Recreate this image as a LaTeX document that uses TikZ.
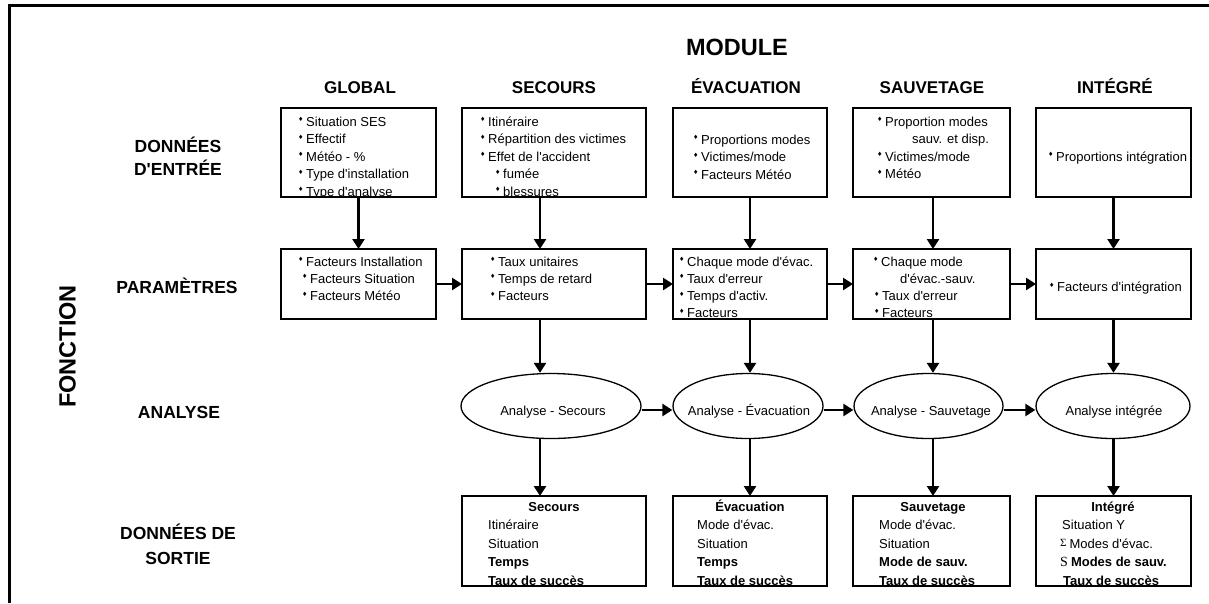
\documentclass[tikz,border=0pt]{standalone}
\usepackage{fontspec}
\setmainfont{Liberation Sans}
\newfontfamily\serifsym{Liberation Serif}
\newfontfamily\dejavu{DejaVu Sans}
\usetikzlibrary{arrows.meta,shapes.geometric,calc}
\newcommand{\q}{\textquotesingle}
\newcommand{\bul}{\makebox[8pt][l]{\raisebox{4.4pt}{\dejavu\fontsize{6}{6}\selectfont ♦}}}
\newcommand{\tl}[1]{\begin{tabular}[t]{@{}l@{}}#1\end{tabular}}
\newcommand{\tc}[1]{\begin{tabular}[t]{@{}c@{}}#1\end{tabular}}
\tikzset{
  boxln/.style={draw, line width=2.8pt, inner sep=0pt, outer sep=0pt},
  inbox/.style={boxln, minimum height=89pt},
  parbox/.style={boxln, minimum height=70pt},
  outbox/.style={boxln, minimum height=90pt},
  arr/.style={line width=2.5pt, -{Triangle[length=10pt,width=12pt]}},
  ell/.style={ellipse, draw, line width=1.3pt, inner sep=0pt, minimum height=65pt},
  body/.style={font=\fontsize{13}{17.5}\selectfont, inner sep=0pt, anchor=base west},
  parbody/.style={font=\fontsize{13}{17.2}\selectfont, inner sep=0pt, anchor=base west},
  outbody/.style={font=\fontsize{13}{18.7}\selectfont, inner sep=0pt, anchor=base west},
  outtitle/.style={font=\fontsize{13}{16}\selectfont\bfseries, inner sep=0pt, anchor=base},
  elltext/.style={font=\fontsize{13}{16}\selectfont, inner sep=0pt, anchor=base},
  coltitle/.style={font=\fontsize{17}{20}\selectfont\bfseries, inner sep=0pt, anchor=base},
  rowlab/.style={font=\fontsize{17.5}{23}\selectfont\bfseries, inner sep=0pt, anchor=base},
  big/.style={font=\fontsize{23.5}{28}\selectfont\bfseries, inner sep=0pt},
}
\begin{document}
\begin{tikzpicture}[x=1pt,y=-1pt]
\useasboundingbox (0,0) rectangle (1209,603);
\draw[line width=3pt] (9,603) -- (9,5) -- (1209,5);

% titles
\node[big, anchor=base] (tmod) at (737,55.5) {MODULE};
\node[coltitle] (t1) at (360,93.5) {GLOBAL};
\node[coltitle] (t2) at (554,93.5) {SECOURS};
\node[coltitle] (t3) at (746,93.5) {ÉVACUATION};
\node[coltitle] (t4) at (932,93.5) {SAUVETAGE};
\node[coltitle] (t5) at (1115,93.5) {INTÉGRÉ};

\node[big, rotate=90] (fn) at (67.5,346.5) {FONCTION};
\node[rowlab] (r1) at (178,152) {\tc{DONNÉES\\D\q ENTRÉE}};
\node[rowlab] (r2) at (177,293.5) {PARAMÈTRES};
\node[rowlab] (r3) at (179,418.5) {ANALYSE};
\node[rowlab, font=\fontsize{17.5}{25}\selectfont\bfseries] (r4) at (178,539) {\tc{DONNÉES DE\\SORTIE}};

% input texts
\begin{scope}\clip (281,108) rectangle (436,197);
\node[body] (ti1) at (298,126) {\tl{\bul Situation SES\\ \bul Effectif\\ \bul Météo - \%\\ \bul Type d\q installation\\ \bul Type d\q analyse}};
\end{scope}
\begin{scope}\clip (462,108) rectangle (646,197);
\node[body] (ti2) at (480,126) {\tl{\bul Itinéraire\\ \bul Répartition des victimes\\ \bul Effet de l\q accident\\ \hspace{15pt}\bul fumée\\ \hspace{15pt}\bul blessures}};
\end{scope}
\node[body] (ti3) at (693,144) {\tl{\bul Proportions modes\\ \bul Victimes/mode\\ \bul Facteurs Météo}};
\node[body] (ti4) at (877,126) {\tl{\bul Proportion modes\\ \hspace{35pt}sauv. et disp.\\ \bul Victimes/mode\\ \bul Météo}};
\node[body] (ti5) at (1048,161) {\bul Proportions intégration};

% parameter texts
\node[parbody] (tp1) at (298,266) {\tl{\bul Facteurs Installation\\ \hspace{4pt}\bul Facteurs Situation\\ \hspace{4pt}\bul Facteurs Météo}};
\node[parbody] (tp2) at (490,266) {\tl{\bul Taux unitaires\\ \bul Temps de retard\\ \bul Facteurs}};
\begin{scope}\clip (673,249) rectangle (827,319);
\node[parbody] (tp3) at (679,266) {\tl{\bul Chaque mode d\q évac.\\ \bul Taux d\q erreur\\ \bul Temps d\q activ.\\ \bul Facteurs}};
\end{scope}
\begin{scope}\clip (853,249) rectangle (1010,319);
\node[parbody] (tp4) at (873,266) {\tl{\bul Chaque mode\\ \hspace{27pt}d\q évac.-sauv.\\ \hspace{1pt}\bul Taux d\q erreur\\ \hspace{1pt}\bul Facteurs}};
\end{scope}
\node[parbody] (tp5) at (1049,291.5) {\bul Facteurs d\q intégration};

% output texts
\node[outtitle] (to2t) at (554,511.5) {Secours};
\node[outtitle] (to3t) at (750,511.5) {Évacuation};
\node[outtitle] (to4t) at (933,511.5) {Sauvetage};
\node[outtitle] (to5t) at (1113,511.5) {Intégré};
\begin{scope}\clip (462,496) rectangle (646,586);
\node[outbody] (to2) at (488,529.5) {\tl{Itinéraire\\ Situation\\ \textbf{Temps}\\ \textbf{Taux de succès}}};
\end{scope}
\begin{scope}\clip (673,496) rectangle (827,586);
\node[outbody] (to3) at (697,529.5) {\tl{Mode d\q évac.\\ Situation\\ \textbf{Temps}\\ \textbf{Taux de succès}}};
\end{scope}
\begin{scope}\clip (853,496) rectangle (1010,586);
\node[outbody] (to4) at (879,529.5) {\tl{Mode d\q évac.\\ Situation\\ \textbf{Mode de sauv.}\\ \textbf{Taux de succès}}};
\end{scope}
\begin{scope}\clip (1036,496) rectangle (1191,586);
\node[outbody] (to5) at (1060,529.5) {\tl{\hspace{2pt}Situation Y\\ {\serifsym\fontsize{11}{11}\selectfont\raisebox{2pt}{Σ}}\hspace{3pt}Modes d\q évac.\\ {\serifsym\fontsize{14}{14}\selectfont S}\hspace{3pt}\textbf{Modes de sauv.}\\ \hspace{3pt}\textbf{Taux de succès}}};
\end{scope}

% boxes
\node[inbox, minimum width=155pt] (i1) at (358.5,152.5) {};
\node[inbox, minimum width=184pt] (i2) at (554,152.5) {};
\node[inbox, minimum width=154pt] (i3) at (750,152.5) {};
\node[inbox, minimum width=157pt] (i4) at (931.5,152.5) {};
\node[inbox, minimum width=155pt] (i5) at (1113.5,152.5) {};
\node[parbox, minimum width=155pt] (p1) at (358.5,284) {};
\node[parbox, minimum width=184pt] (p2) at (554,284) {};
\node[parbox, minimum width=154pt] (p3) at (750,284) {};
\node[parbox, minimum width=157pt] (p4) at (931.5,284) {};
\node[parbox, minimum width=155pt] (p5) at (1113.5,284) {};
\node[outbox, minimum width=184pt] (o2) at (554,541) {};
\node[outbox, minimum width=154pt] (o3) at (750,541) {};
\node[outbox, minimum width=157pt] (o4) at (931.5,541) {};
\node[outbox, minimum width=155pt] (o5) at (1113.5,541) {};

% ellipses
\node[ell, minimum width=180pt] (e2) at (551,406) {};
\node[ell, minimum width=150pt] (e3) at (748,406) {};
\node[ell, minimum width=149pt] (e4) at (928.5,406) {};
\node[ell, minimum width=154pt] (e5) at (1113,406) {};
\node[elltext] (te2) at (553,415) {Analyse - Secours};
\node[elltext] (te3) at (749,415) {Analyse - Évacuation};
\node[elltext] (te4) at (931,415) {Analyse - Sauvetage};
\node[elltext] (te5) at (1114,415) {Analyse intégrée};

% column coordinates
\coordinate (c1) at (358.5,0);
\coordinate (c2) at (540,0);
\coordinate (c3) at (750,0);
\coordinate (c4) at (933,0);
\coordinate (c5) at (1113.5,0);
\coordinate (hy) at (0,410);

% vertical connectors
\foreach \k in {1,...,5} {
  \draw[arr] (i\k.south -| c\k) -- (p\k.north -| c\k);
}
\foreach \k in {2,...,5} {
  \draw[arr] (p\k.south -| c\k) -- (e\k.north -| c\k);
  \draw[arr] (e\k.south -| c\k) -- (o\k.north -| c\k);
}
% horizontal connectors
\draw[arr] (p1.east) -- (p2.west);
\draw[arr] (p2.east) -- (p3.west);
\draw[arr] (p3.east) -- (p4.west);
\draw[arr] (p4.east) -- (p5.west);
\draw[arr] (e2.east |- hy) -- (e3.west |- hy);
\draw[arr] (e3.east |- hy) -- (e4.west |- hy);
\draw[arr] (e4.east |- hy) -- (e5.west |- hy);
\end{tikzpicture}
\end{document}
